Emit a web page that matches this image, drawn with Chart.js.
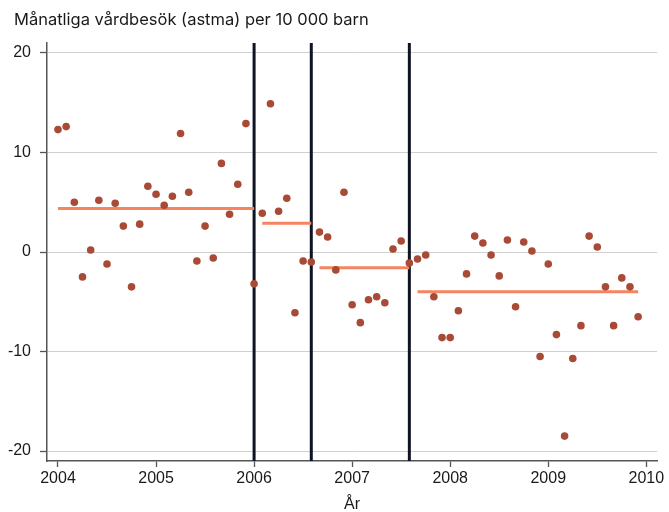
<!DOCTYPE html>
<html>
<head>
<meta charset="utf-8">
<script src="https://cdn.jsdelivr.net/npm/chart.js@4"></script>
<style>
  html, body { margin: 0; padding: 0; background: #fff; }
  #wrap { width: 669px; height: 512px; position: relative; }
</style>
</head>
<body>
<div id="wrap"><canvas id="chart"></canvas></div>
<script>
// Monthly asthma visits per 10 000 children, Jan..Dec of each year
const years = [2004, 2005, 2006, 2007, 2008, 2009];
const v2004 = [12.3, 12.6, 5.0, -2.5, 0.2, 5.2, -1.2, 4.9, 2.6, -3.5, 2.8, 6.6];
const v2005 = [5.8, 4.7, 5.6, 11.9, 6.0, -0.9, 2.6, -0.6, 8.9, 3.8, 6.8, 12.9];
const v2006 = [-3.2, 3.9, 14.9, 4.1, 5.4, -6.1, -0.9, -1.0, 2.0, 1.5, -1.8, 6.0];
const v2007 = [-5.3, -7.1, -4.8, -4.5, -5.1, 0.3, 1.1, -1.1, -0.7, -0.3, -4.5, -8.6];
const v2008 = [-8.6, -5.9, -2.2, 1.6, 0.9, -0.3, -2.4, 1.2, -5.5, 1.0, 0.1, -10.5];
const v2009 = [-1.2, -8.3, -18.5, -10.7, -7.4, 1.6, 0.5, -3.5, -7.4, -2.6, -3.5, -6.5];

// Break points (vertical lines) and period means
const breaks = [2006, 2006 + 7 / 12, 2007 + 7 / 12];
const segStart = [2004, 2006 + 1 / 12, 2006 + 8 / 12, 2007 + 8 / 12];
const segEnd = [2006, 2006 + 7 / 12, 2007 + 7 / 12, 2009 + 11 / 12];
const segLevel = [4.36, 2.88, -1.58, -4.0];

const xTicks = [2004, 2005, 2006, 2007, 2008, 2009, 2010];
const yTicks = [-20, -10, 0, 10, 20];

const titleText = 'Månatliga vårdbesök (astma) per 10 000 barn';
const xTitle = 'År';

const Y_MIN = -21, Y_MAX = 21;

const allValues = [v2004, v2005, v2006, v2007, v2008, v2009];
const points = [];
allValues.forEach((arr, i) => {
    arr.forEach((v, m) => points.push({ x: years[i] + m / 12, y: v }));
});

const datasets = [{
    label: 'besök',
    data: points,
    showLine: false,
    pointRadius: 3.8,
    pointHoverRadius: 3.8,
    pointBackgroundColor: '#a84a35',
    pointBorderWidth: 0
}];

segLevel.forEach((lvl, i) => {
    datasets.push({
        label: 'nivå' + i,
        data: [{ x: segStart[i], y: lvl }, { x: segEnd[i], y: lvl }],
        showLine: true,
        borderColor: '#f6845f',
        borderWidth: 3,
        pointRadius: 0
    });
});

breaks.forEach((b, i) => {
    datasets.push({
        label: 'brott' + i,
        data: [{ x: b, y: Y_MIN }, { x: b, y: Y_MAX }],
        showLine: true,
        borderColor: '#0f1424',
        borderWidth: 3,
        pointRadius: 0
    });
});

// Title in the top-left corner
const titlePlugin = {
    id: 'topTitle',
    afterDraw(chart) {
        const ctx = chart.ctx;
        ctx.save();
        ctx.font = '16.5px Inter';
        ctx.fillStyle = '#1a1a1a';
        ctx.textAlign = 'left';
        ctx.textBaseline = 'middle';
        ctx.fillText(titleText, 14, 20);
        ctx.restore();
    }
};

new Chart(document.getElementById('chart'), {
    type: 'scatter',
    data: { datasets: datasets },
    plugins: [titlePlugin],
    options: {
        responsive: true,
        maintainAspectRatio: false,
        animation: false,
        layout: { padding: { top: 43, right: 12, left: 0, bottom: 0 } },
        plugins: {
            legend: { display: false },
            tooltip: { enabled: false }
        },
        scales: {
            x: {
                type: 'linear',
                min: 2003.888,
                max: 2010.109,
                afterBuildTicks: s => { s.ticks = xTicks.map(v => ({ value: v })); },
                afterFit: s => { s.height = 51; },
                grid: { drawOnChartArea: false, drawTicks: true, tickLength: 6, tickColor: '#555', tickWidth: 1.3 },
                border: { color: '#555', width: 1.5 },
                ticks: {
                    color: '#1a1a1a',
                    font: { family: 'Liberation Sans', size: 16 },
                    padding: 2,
                    maxRotation: 0,
                    callback: v => String(v)
                },
                title: {
                    display: true,
                    text: xTitle,
                    color: '#1a1a1a',
                    font: { family: 'Liberation Sans', size: 16 },
                    padding: { top: 7, bottom: -2 }
                }
            },
            y: {
                min: Y_MIN,
                max: Y_MAX,
                afterBuildTicks: s => { s.ticks = yTicks.map(v => ({ value: v })); },
                afterFit: s => { s.width = 47; },
                grid: { color: '#d0d0d0', lineWidth: 1, tickLength: 7, tickColor: '#555', tickWidth: 1.3 },
                border: { color: '#555', width: 1.5 },
                ticks: {
                    color: '#1a1a1a',
                    font: { family: 'Liberation Sans', size: 16 },
                    padding: 9,
                    callback: v => String(v)
                }
            }
        }
    }
});
</script>
</body>
</html>
